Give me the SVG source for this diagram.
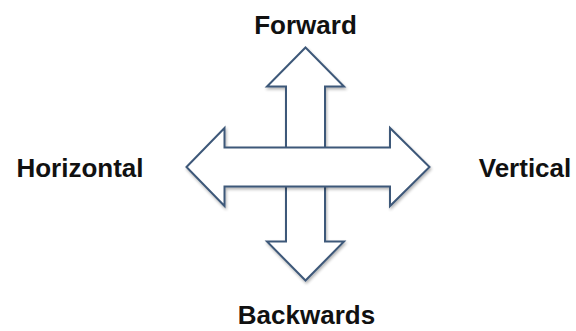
<svg xmlns="http://www.w3.org/2000/svg" width="576" height="331" viewBox="0 0 576 331">
<defs>
<filter id="sh" x="-10%" y="-10%" width="120%" height="120%">
<feGaussianBlur in="SourceAlpha" stdDeviation="1.5"/>
<feOffset dx="1" dy="1.5" result="b"/>
<feComponentTransfer><feFuncA type="linear" slope="0.3"/></feComponentTransfer>
<feMerge><feMergeNode/><feMergeNode in="SourceGraphic"/></feMerge>
</filter>
<style>
.arr{fill:#ffffff;stroke:#3e5879;stroke-width:2;stroke-linejoin:miter;filter:url(#sh)}
.lbl{font-family:"Liberation Sans",Arial,sans-serif;font-weight:bold;font-size:26px;fill:#111111;text-anchor:middle}
</style>
</defs>
<rect width="576" height="331" fill="#ffffff"/>
<g id="connectors">
<polygon id="vertical-arrow" class="arr" points="305.5,47.5 344,86.5 325,86.5 325,241.5 344,241.5 305.5,280.5 267,241.5 286,241.5 286,86.5 267,86.5"/>
<polygon id="horizontal-arrow" class="arr" points="186.5,167 224.5,128 224.5,147.5 390,147.5 390,128 429.5,167 390,206 390,186.5 224.5,186.5 224.5,206"/>
</g>
<g id="forward"><text class="lbl" x="305.5" y="33.5">Forward</text></g>
<g id="horizontal"><text class="lbl" x="80" y="177">Horizontal</text></g>
<g id="vertical"><text class="lbl" x="525" y="177">Vertical</text></g>
<g id="backwards"><text class="lbl" x="306.5" y="324">Backwards</text></g>
</svg>
